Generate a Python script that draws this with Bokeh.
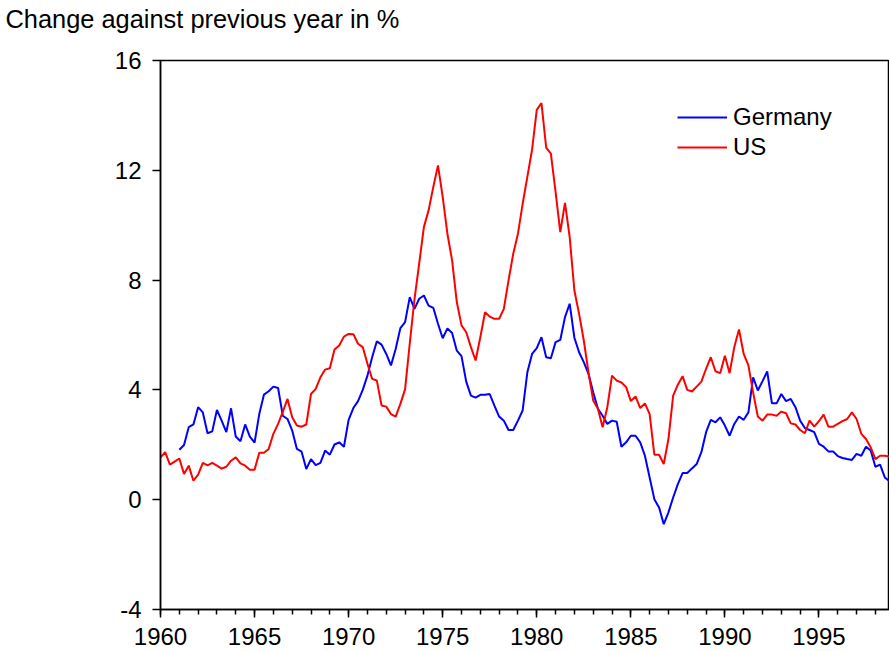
from bokeh.plotting import figure
from bokeh.models import (Range1d, SingleIntervalTicker, Legend, LegendItem, ColumnDataSource,
                          PrintfTickFormatter, Title)
from bokeh.embed import file_html
from bokeh.resources import INLINE

nan = float("nan")

# Quarterly data, 1960Q1 .. 1998Q4 (change against previous year in %)
start_year = 1960

us = [1.54, 1.73, 1.28, 1.39, 1.50, 0.94, 1.24, 0.69, 0.91, 1.34,
      1.25, 1.34, 1.24, 1.13, 1.20, 1.42, 1.54, 1.32, 1.24, 1.09,
      1.09, 1.71, 1.71, 1.85, 2.40, 2.76, 3.20, 3.67, 3.00, 2.70,
      2.66, 2.74, 3.85, 4.04, 4.46, 4.74, 4.79, 5.47, 5.62, 5.94,
      6.04, 6.03, 5.68, 5.56, 4.95, 4.40, 4.34, 3.43, 3.39, 3.12,
      3.03, 3.49, 4.02, 5.70, 7.30, 8.60, 9.93, 10.54, 11.39, 12.18,
      11.03, 9.69, 8.72, 7.20, 6.35, 6.10, 5.56, 5.07, 5.92, 6.83,
      6.67, 6.59, 6.59, 6.95, 7.99, 8.96, 9.69, 10.78, 11.76, 12.75,
      14.20, 14.45, 12.83, 12.61, 11.21, 9.75, 10.81, 9.57, 7.62, 6.77,
      5.80, 4.64, 3.61, 3.31, 2.64, 3.37, 4.52, 4.34, 4.27, 4.10,
      3.59, 3.76, 3.34, 3.51, 3.12, 1.64, 1.64, 1.30, 2.21, 3.79,
      4.19, 4.50, 4.00, 3.94, 4.12, 4.30, 4.77, 5.19, 4.68, 4.61,
      5.24, 4.61, 5.56, 6.20, 5.31, 4.89, 3.91, 3.03, 2.88, 3.10,
      3.10, 3.06, 3.21, 3.15, 2.78, 2.74, 2.54, 2.42, 2.88, 2.66,
      2.86, 3.10, 2.66, 2.66, 2.76, 2.86, 2.94, 3.18, 2.94, 2.40,
      2.21, 1.91, 1.48, 1.60, 1.60, 1.57]

germany = [nan, nan, nan, nan,
           1.82, 1.99, 2.64, 2.74, 3.37, 3.18,
           2.42, 2.49, 3.27, 2.88, 2.46, 3.33, 2.30, 2.13, 2.74, 2.30,
           2.08, 3.12, 3.83, 3.95, 4.12, 4.07, 3.06, 2.94, 2.52, 1.85,
           1.75, 1.12, 1.48, 1.26, 1.34, 1.79, 1.64, 2.01, 2.09, 1.93,
           2.91, 3.34, 3.59, 4.00, 4.52, 5.19, 5.77, 5.65, 5.31, 4.89,
           5.49, 6.25, 6.47, 7.38, 6.95, 7.32, 7.44, 7.07, 6.99, 6.41,
           5.88, 6.24, 6.07, 5.43, 5.23, 4.30, 3.79, 3.72, 3.82, 3.82,
           3.85, 3.43, 3.03, 2.88, 2.54, 2.54, 2.88, 3.25, 4.64, 5.31,
           5.52, 5.92, 5.19, 5.15, 5.74, 5.82, 6.65, 7.14, 5.90, 5.37,
           5.01, 4.58, 3.91, 3.31, 3.06, 2.76, 2.88, 2.84, 1.93, 2.09,
           2.33, 2.33, 2.09, 1.60, 0.81, 0.02, -0.28, -0.89, -0.46, 0.08,
           0.57, 0.97, 0.97, 1.14, 1.30, 1.73, 2.46, 2.91, 2.82, 3.00,
           2.70, 2.33, 2.76, 3.03, 2.91, 3.18, 4.46, 3.98, 4.32, 4.67,
           3.51, 3.51, 3.85, 3.59, 3.67, 3.37, 2.88, 2.61, 2.54, 2.46,
           2.03, 1.93, 1.76, 1.76, 1.59, 1.52, 1.48, 1.45, 1.67, 1.60,
           1.93, 1.79, 1.20, 1.28, 0.81, 0.67]

series_names = ["Germany", "US"]
title_text = "Change against previous year in %"

time = [start_year + q / 4 for q in range(len(us))]
src = ColumnDataSource(dict(t=time, us=us, de=germany))

FONT = "Liberation Sans"

p = figure(width=889, height=651, output_backend="svg", toolbar_location=None,
           x_range=Range1d(time[0], time[-1]), y_range=Range1d(-4, 16),
           min_border_left=160, min_border_right=0, min_border_top=60,
           min_border_bottom=42)

p.background_fill_color = "white"
p.border_fill_color = "white"
p.outline_line_color = "black"
p.outline_line_width = 1.5
p.grid.visible = False
p.title.text = ""

# spacer between frame and title (stacked nearest the frame)
spacer = Title(text=" ", text_font=FONT, text_font_size="10px", standoff=15)
p.add_layout(spacer, "above")
main_title = Title(text=title_text, align="left", vertical_align="bottom", offset=-155,
                   text_font=FONT, text_font_size="25.4px", text_font_style="normal",
                   text_color="black", standoff=0)
p.add_layout(main_title, "above")

r_de = p.line("t", "de", source=src, line_color="#0000FF", line_width=2)
r_us = p.line("t", "us", source=src, line_color="#FF0000", line_width=2)

p.xaxis.ticker = SingleIntervalTicker(interval=5, num_minor_ticks=5)
p.yaxis.ticker = SingleIntervalTicker(interval=4, num_minor_ticks=0)
p.yaxis.formatter = PrintfTickFormatter(format="%d")
for ax in (p.xaxis, p.yaxis):
    ax.axis_line_color = "black"
    ax.axis_line_width = 1.5
    ax.major_tick_line_color = "black"
    ax.major_tick_line_width = 1.5
    ax.major_tick_in = 0
    ax.major_tick_out = 8
    ax.minor_tick_in = 0
    ax.minor_tick_out = 5
    ax.minor_tick_line_color = "black"
    ax.minor_tick_line_width = 1.5
    ax.major_label_text_font = FONT
    ax.major_label_text_font_size = "24px"
    ax.major_label_text_color = "black"
p.yaxis.minor_tick_line_color = None
p.xaxis.major_label_standoff = 10
p.yaxis.major_label_standoff = 11

legend = Legend(items=[LegendItem(label=series_names[0], renderers=[r_de]),
                       LegendItem(label=series_names[1], renderers=[r_us])],
                location=(517, 447), orientation="vertical")
legend.border_line_color = None
legend.background_fill_alpha = 0
legend.label_text_font = FONT
legend.label_text_font_size = "24px"
legend.label_text_color = "black"
legend.glyph_width = 50
legend.glyph_height = 30
legend.label_height = 30
legend.label_standoff = 6
legend.padding = 0
legend.spacing = 0
legend.margin = 0
p.add_layout(legend, "center")

open("out.html", "w").write(file_html(p, INLINE))
